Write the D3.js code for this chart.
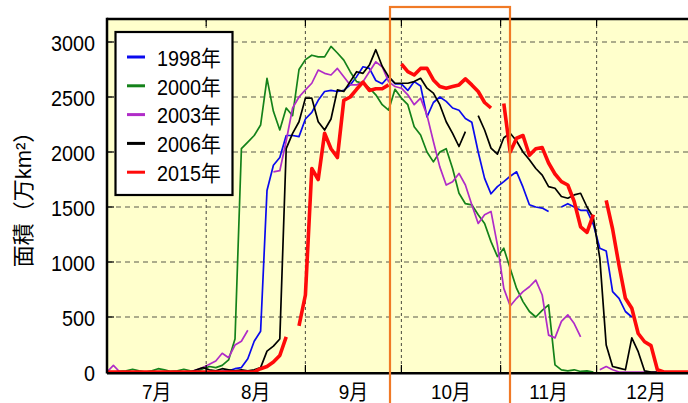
<!DOCTYPE html>
<html>
<head>
<meta charset="utf-8">
<script src="https://cdn.jsdelivr.net/npm/d3@7"></script>
<style>
  html, body { margin: 0; padding: 0; background: #ffffff; }
  svg { display: block; }
  text { font-family: "Liberation Sans", Arial, "Noto Sans CJK JP", sans-serif; fill: #000; }
</style>
</head>
<body>
<svg id="chart" width="688" height="403"></svg>
<script>
// Daily ozone-hole area, sampled every 2 days from 1 July (万km²); null = no data
const stepDays = 2;
const seriesNames = ["1998年", "2000年", "2003年", "2006年", "2015年"];

const area1998 = [
  0, 0, 0, 0, 0, 0, 0, 0, 0, 0,
  0, 0, 0, 0, 0, 0, 0, 0, 5, 10,
  30, 40, 120, 280, 370, 1650, 1880, 1950, 2150, 2150,
  2140, 2300, 2360, 2470, 2550, 2560, 2550, 2560, 2610, 2685,
  2775, 2760, 2650, 2620, 2685, 2620, 2620, 2560, 2640, 2600,
  2320, 2450, 2500, 2460, 2400, 2380, 2305, 2270, 2000, 1760,
  1620, 1685, 1730, 1780, 1820, 1680, 1520, 1500, 1490, 1460,
  null, 1500, 1530, 1500, 1470, 1470, 1340, 1125, 1100, 730,
  670, 550, 500, null, null, null, null, null, null, null,
  null, null
];

const area2000 = [
  0, 0, 5, 10, 25, 10, 0, 10, 30, 20,
  5, 10, 25, 10, 5, 30, 50, 40, 60, 110,
  300, 2030, 2090, 2150, 2245, 2670, 2370, 2200, 2400, 2330,
  2750, 2840, 2880, 2865, 2865, 2960, 2900, 2835, 2730, 2640,
  2625, 2580, 2520, 2430, 2380, 2570, 2490, 2430, 2230, 2155,
  2000, 1910, 2000, 2030, 1850, 1625, 1530, 1520, 1430, 1350,
  1185, 1050, 1125, 940, 760, 640, 550, 500, 560, 610,
  65, 20, 10, 20, 5, 10, 0, null, null, null,
  null, null, null, null, null, null, null, null, null, null,
  null, null
];

const area2003 = [
  0, 60, 0, 0, 0, 0, 0, 0, 0, 0,
  0, 0, 0, 0, 20, 40, 70, 100, 170, 130,
  245, 280, 380, null, null, null, 1820, 1830, 2100, 2400,
  2500, 2565, 2625, 2745, 2715, 2700, 2760, 2685, 2610, 2610,
  2640, 2730, 2820, 2775, 2640, 2595, 2580, 2520, 2430, 2490,
  2335, 2095, 1865, 1700, 1730, 1805, 1700, 1520, 1350, 1430,
  1460, 1155, 760, 600, 670, 730, 775, 835, 700, 335,
  310, 460, 520, 440, 320, null, null, 20, 50, 20,
  0, 0, 0, 0, 0, 0, 0, null, null, null,
  null, null
];

const area2006 = [
  0, 0, 0, 0, 0, 0, 0, 0, 0, 0,
  0, 0, 0, 0, 20, 40, 20, 10, 30, 20,
  10, 20, 10, 20, 40, 190, 235, 300, 2030, 2170,
  2275, 2490, 2490, 2275, 2200, 2300, 2565, 2550, 2640, 2730,
  2715, 2790, 2930, 2780, 2685, 2625, 2625, 2625, 2640, 2670,
  2580, 2535, 2430, 2275, 2170, 2050, 2185, null, 2330, 2200,
  2035, 1980, 2130, 2170, 2100, 2000, 1930, 1850, 1790, 1685,
  1670, 1595, 1580, 1610, 1625, 1500, 1400, 1035, 245, 50,
  35, 20, 310, 185, 10, 0, 0, null, null, null,
  null, null
];

const area2015 = [
  0, 0, 0, 0, 0, 0, 0, 0, 0, 0,
  0, 0, 0, 0, 0, 0, 0, 0, 0, 0,
  0, 0, 0, 0, 30, 50, 90, 150, 320, null,
  420, 700, 1850, 1750, 2170, 2030, 1950, 2470, 2500, 2570,
  2635, 2560, 2575, 2575, 2610, null, 2800, 2730, 2700, 2760,
  2760, 2655, 2595, 2580, 2595, 2610, 2665, 2610, 2550, 2450,
  2400, null, 2440, 2000, 2125, 2150, 1970, 2030, 2040, 1900,
  1800, 1730, 1700, 1550, 1320, 1270, 1430, null, 1560, 1300,
  970, 670, 580, 350, 275, 240, 20, 0, 0, 0,
  0, 0
];

const seriesValues = [area1998, area2000, area2003, area2006, area2015];
const seriesColors = ["#0a0aee", "#14821a", "#b02cc8", "#000000", "#ff0a0a"];
const seriesWidths = [1.7, 1.7, 1.7, 1.7, 3.6];

const yTicks = [0, 500, 1000, 1500, 2000, 2500, 3000];
const monthLabels = ["7月", "8月", "9月", "10月", "11月", "12月"];
const yLabel = "面積（万km²）";

// ---- layout ----
const plot = { left: 107, top: 19, bottom: 372, right: 688 };
const svg = d3.select("#chart");

const start = new Date(Date.UTC(2015, 6, 1));
const end = new Date(Date.UTC(2016, 0, 1));
const x = d3.scaleUtc().domain([start, end]).range([plot.left, plot.left + 184 * 3.2]);
const y = d3.scaleLinear().domain([0, 3200]).range([plot.bottom, plot.top + 1]);

const dates = seriesValues[0].map((_, i) => d3.utcDay.offset(start, i * stepDays));
const monthStarts = d3.utcMonth.range(start, end);

// plot background
svg.append("rect")
  .attr("x", plot.left).attr("y", plot.top)
  .attr("width", plot.right - plot.left).attr("height", plot.bottom - plot.top)
  .attr("fill", "#ffffcc");

// grid
const grid = svg.append("g").attr("stroke", "#5a5a4a").attr("stroke-width", 1.1);
grid.selectAll("line.h").data(yTicks.filter(v => v > 0)).join("line")
  .attr("x1", plot.left).attr("x2", plot.right)
  .attr("y1", d => y(d)).attr("y2", d => y(d))
  .attr("stroke-dasharray", "5,4");
grid.selectAll("line.v").data(monthStarts.slice(1)).join("line")
  .attr("x1", d => x(d)).attr("x2", d => x(d))
  .attr("y1", plot.top).attr("y2", plot.bottom)
  .attr("stroke-dasharray", "3,3");

// series
svg.append("clipPath").attr("id", "plotClip").append("rect")
  .attr("x", plot.left).attr("y", plot.top)
  .attr("width", plot.right - plot.left).attr("height", plot.bottom - plot.top + 4);

const line = d3.line()
  .defined(d => d[1] !== null)
  .x(d => x(d[0]))
  .y(d => y(d[1]));

const lines = svg.append("g").attr("clip-path", "url(#plotClip)");
seriesValues.forEach((vals, k) => {
  lines.append("path")
    .datum(vals.map((v, i) => [dates[i], v]))
    .attr("d", line)
    .attr("fill", "none")
    .attr("stroke", seriesColors[k])
    .attr("stroke-width", seriesWidths[k])
    .attr("stroke-linejoin", "round");
});

// frame
const frame = svg.append("g").attr("stroke", "#000");
frame.append("line").attr("x1", plot.left).attr("x2", plot.right)
  .attr("y1", plot.top).attr("y2", plot.top).attr("stroke-width", 2.5);
frame.append("line").attr("x1", plot.left).attr("x2", plot.left)
  .attr("y1", plot.top - 1.2).attr("y2", plot.bottom + 1.5).attr("stroke-width", 2.5);
frame.append("line").attr("x1", plot.left).attr("x2", plot.right)
  .attr("y1", plot.bottom + 1.2).attr("y2", plot.bottom + 1.2).attr("stroke-width", 2.5);

// tick marks
frame.selectAll("line.ty").data(yTicks.filter(v => v > 0)).join("line")
  .attr("x1", plot.left).attr("x2", plot.left + 7)
  .attr("y1", d => y(d)).attr("y2", d => y(d)).attr("stroke-width", 1.2);
frame.selectAll("line.tb").data(monthStarts.slice(1)).join("line")
  .attr("x1", d => x(d)).attr("x2", d => x(d))
  .attr("y1", plot.bottom - 7).attr("y2", plot.bottom).attr("stroke-width", 1.2);
frame.selectAll("line.tt").data(monthStarts.slice(1)).join("line")
  .attr("x1", d => x(d)).attr("x2", d => x(d))
  .attr("y1", plot.top).attr("y2", plot.top + 7).attr("stroke-width", 1.2);

// condensed text helper
function label(g, str, tx, ty, anchor, size) {
  return g.append("text")
    .attr("transform", `translate(${tx},${ty}) scale(0.9,1)`)
    .attr("text-anchor", anchor)
    .attr("dominant-baseline", "central")
    .attr("font-size", size)
    .text(str);
}

const labels = svg.append("g");
yTicks.forEach(v => label(labels, String(v), 95, y(v) + 1, "end", 22));

monthLabels.forEach((m, i) => {
  const a = monthStarts[i];
  const b = d3.utcMonth.offset(a, 1);
  const cx = (x(a) + x(b)) / 2;
  label(labels, m, cx, 392, "middle", 21);
});

// y-axis title
svg.append("text")
  .attr("transform", "translate(23,194) rotate(-90)")
  .attr("text-anchor", "middle")
  .attr("dominant-baseline", "central")
  .attr("font-size", 22)
  .attr("font-family", "'Noto Sans CJK JP', sans-serif")
  .text(yLabel);

// legend
const lg = svg.append("g");
lg.append("rect").attr("x", 115.5).attr("y", 32).attr("width", 117).attr("height", 163)
  .attr("fill", "#ffffff").attr("stroke", "#000").attr("stroke-width", 2.2);
seriesNames.forEach((name, i) => {
  const cy = 57 + i * 28.8;
  lg.append("line").attr("x1", 127).attr("x2", 145).attr("y1", cy).attr("y2", cy)
    .attr("stroke", seriesColors[i]).attr("stroke-width", 3);
  label(lg, name, 157, cy + 1, "start", 22);
});

// highlighted period
svg.append("rect")
  .attr("x", 390).attr("y", 7).attr("width", 120).attr("height", 420)
  .attr("fill", "none").attr("stroke", "#f07a26").attr("stroke-width", 2.2);
</script>
</body>
</html>
